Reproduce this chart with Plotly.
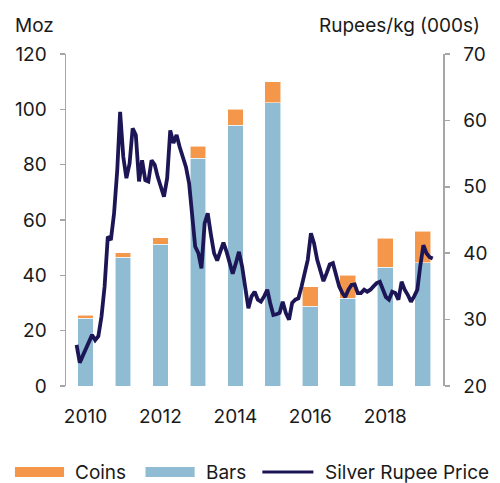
import plotly.graph_objects as go

# ---- data ----
years = [2010, 2011, 2012, 2013, 2014, 2015, 2016, 2017, 2018, 2019]
bars_moz = [24.5, 46.6, 51.2, 82.3, 94.3, 102.4, 28.9, 31.7, 42.9, 44.6]
coins_moz = [1.0, 1.6, 2.3, 4.4, 5.7, 7.5, 7.0, 8.3, 10.5, 11.3]

price_months = [f"{2010 + i // 12}-{i % 12 + 1:02d}-01" for i in range(115)]
price_rupee = [
    26.2, 23.5, 24.5, 25.5, 26.8, 27.7, 26.9, 27.5, 30.5, 35.0, 42.5, 42.0,
    46.0, 52.5, 61.3, 54.5, 51.3, 53.5, 58.8, 57.8, 50.8, 54.0, 51.0, 50.8,
    54.0, 53.3, 51.5, 50.0, 48.5, 51.3, 58.5, 56.6, 57.8, 56.0, 54.5, 53.0,
    50.5, 45.0, 41.0, 40.0, 37.7, 44.5, 46.0, 42.8, 40.0, 38.9, 40.5, 41.6,
    40.2, 38.5, 36.9, 38.5, 40.2, 38.0, 35.0, 31.7, 33.5, 34.2, 33.0, 32.7,
    33.5, 34.5, 32.5, 30.7, 30.8, 31.0, 32.7, 31.0, 30.0, 32.5, 33.0, 33.2,
    35.0, 37.0, 39.0, 43.0, 41.5, 39.0, 37.5, 35.8, 37.0, 38.3, 38.5, 37.0,
    35.0, 34.0, 33.4, 34.5, 35.2, 35.3, 34.0, 34.0, 34.5, 34.2, 34.5, 35.0,
    35.5, 35.7, 34.5, 33.4, 33.0, 34.2, 34.0, 33.0, 35.7, 34.5, 33.7, 32.7,
    33.5, 34.5, 38.0, 41.2, 40.0, 39.4, 39.2,
]

left_ticks = [0, 20, 40, 60, 80, 100, 120]
right_ticks = [20, 30, 40, 50, 60, 70]
x_ticks = [2010, 2012, 2014, 2016, 2018]

ORANGE = "#F4974A"
BLUE = "#8FBBD3"
NAVY = "#1C1657"
GREY = "#A6A6A6"
FONT = "Inter"
TXT = "#1a1a1a"
FS = 19

fig = go.Figure()
fig.add_trace(go.Bar(x=years, y=bars_moz, name="Bars", marker_color=BLUE,
                     marker_line=dict(color="rgba(255,255,255,0.7)", width=0.8),
                     width=0.42, showlegend=False))
fig.add_trace(go.Bar(x=years, y=coins_moz, name="Coins", marker_color=ORANGE,
                     marker_line=dict(color="rgba(255,255,255,0.7)", width=0.8),
                     width=0.42, showlegend=False))
fig.add_trace(go.Scatter(x=price_months, y=price_rupee, name="Silver Rupee Price",
                         mode="lines", line=dict(color=NAVY, width=3.8),
                         xaxis="x2", yaxis="y2", showlegend=False))

fig.update_layout(
    width=500, height=483,
    margin=dict(l=66, r=50, t=54, b=97),
    paper_bgcolor="white", plot_bgcolor="white",
    barmode="stack",
    font=dict(family=FONT, size=FS, color=TXT),
    xaxis=dict(range=[2009.48, 2019.54], tickvals=x_ticks, ticks="",
               showline=False, showgrid=False, zeroline=False,
               ticklabelstandoff=17, fixedrange=True),
    xaxis2=dict(type="date", overlaying="x", visible=False,
                range=["2009-09-20", "2019-10-09"]),
    yaxis=dict(range=[0, 120], tickvals=left_ticks, ticks="outside", ticklen=5,
               tickcolor=GREY, tickwidth=1.5, showline=True, linecolor=GREY,
               linewidth=1.5, showgrid=False, zeroline=False,
               ticklabelstandoff=9),
    yaxis2=dict(range=[20, 70], tickvals=right_ticks, overlaying="y", side="right",
                ticks="outside", ticklen=5, tickcolor=GREY, tickwidth=1.5,
                showline=True, linecolor=GREY, linewidth=1.5, showgrid=False,
                zeroline=False, ticklabelstandoff=10),
)

# axis titles
fig.add_annotation(text="Moz", xref="paper", yref="paper", x=-66/384, y=1 + 29/332,
                   xanchor="left", yanchor="middle", showarrow=False,
                   font=dict(family=FONT, size=FS, color=TXT), xshift=12)
fig.add_annotation(text="Rupees/kg (000s)", xref="paper", yref="paper", x=1 + 40/384,
                   y=1 + 29/332, xanchor="right", yanchor="middle", showarrow=False,
                   font=dict(family=FONT, size=FS, color=TXT))

# custom legend
legend_items = [("Coins", ORANGE, "bar", 14, 73), ("Bars", BLUE, "bar", 147, 207),
                ("Silver Rupee Price", NAVY, "line", 266, 328)]
ly = 472
for label, col, kind, x0, tx in legend_items:
    px0 = (x0 - 66) / 384
    px1 = (x0 + 50 - 66) / 384
    if kind == "bar":
        fig.add_shape(type="rect", xref="paper", yref="paper",
                      x0=px0, x1=px1, y0=(386 - ly - 5) / 332, y1=(386 - ly + 5) / 332,
                      fillcolor=col, line_width=0)
    else:
        fig.add_shape(type="line", xref="paper", yref="paper",
                      x0=px0, x1=(x0 + 52 - 66) / 384, y0=(386 - ly) / 332,
                      y1=(386 - ly) / 332, line=dict(color=col, width=3))
    fig.add_annotation(text=label, xref="paper", yref="paper",
                       x=(tx - 66) / 384, y=(386 - ly) / 332,
                       xanchor="left", yanchor="middle", showarrow=False,
                       font=dict(family=FONT, size=FS, color=TXT))

fig.write_html("out.html",
               config={"displayModeBar": False, "staticPlot": True},
               post_script="document.body.style.margin='0';document.body.style.overflow='hidden';")
